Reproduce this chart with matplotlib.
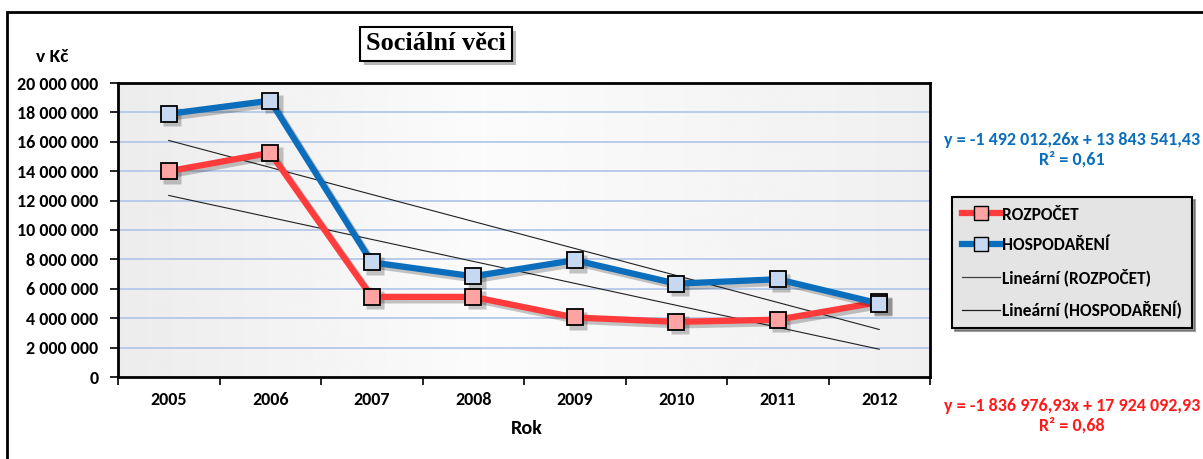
import numpy as np
from matplotlib import pyplot as plt
from matplotlib import font_manager
from matplotlib.lines import Line2D
from matplotlib.patches import Rectangle
from matplotlib.transforms import ScaledTranslation
import matplotlib.patheffects as pe

years = ['2005', '2006', '2007', '2008', '2009', '2010', '2011', '2012']
rozpocet = [14.0e6, 15.25e6, 5.45e6, 5.45e6, 4.05e6, 3.75e6, 3.9e6, 5.1e6]
hospodareni = [17.9e6, 18.8e6, 7.8e6, 6.85e6, 7.95e6, 6.35e6, 6.65e6, 5.0e6]
y_ticks = [0, 2e6, 4e6, 6e6, 8e6, 10e6, 12e6, 14e6, 16e6, 18e6, 20e6]

eq_rozpocet = 'y = -1 492 012,26x + 13 843 541,43\nR² = 0,61'
eq_hospodareni = 'y = -1 836 976,93x + 17 924 092,93\nR² = 0,68'

installed = {f.name for f in font_manager.fontManager.ttflist}
sans = 'Liberation Sans'
for cand in ['Carlito', 'Liberation Sans Narrow', 'Roboto Condensed', 'Open Sans Condensed']:
    if cand in installed:
        sans = cand
        break
plt.rcParams['font.family'] = [sans, 'DejaVu Sans']
plt.rcParams['font.weight'] = 'bold'
fs = 11.5 if sans == 'Liberation Sans' else 13

W, H = 1203, 459
fig = plt.figure(figsize=(W / 100, H / 100), dpi=100)

# outer chart border (clipped at right and bottom like the source)
fig.patches.append(Rectangle((7 / W, -0.05), 1.1, 1 - 12 / H + 0.05, transform=fig.transFigure,
                             fill=False, ec='black', lw=2, zorder=0))

left, right, top, bottom = 118 / W, 930 / W, 1 - 83 / H, 1 - 377 / H
pos = [left, bottom, right - left, top - bottom]

# gradient background of plot area
bg = fig.add_axes(pos, zorder=0)
grad = np.interp(np.linspace(0, 1, 300), [0, 0.45, 1], [0.925, 0.985, 0.94])
bg.imshow(np.tile(grad, (2, 1)), cmap='gray', vmin=0, vmax=1, aspect='auto',
          extent=[0, 1, 0, 1])
bg.axis('off')

ax = fig.add_axes(pos, zorder=1)
ax.patch.set_alpha(0)
x = np.arange(len(years))

for yv in y_ticks[1:]:
    ax.axhline(yv, color='#b4c8e8', lw=1.3, zorder=1)

# trend lines
for series in (rozpocet, hospodareni):
    k, q = np.polyfit(x, series, 1)
    ax.plot(x, k * x + q, color='#202020', lw=0.8, zorder=2)

# series with a soft drop shadow
shift = ax.transData + ScaledTranslation(2.5 / 72, -2.5 / 72, fig.dpi_scale_trans)
for i, (series, lc, mc) in enumerate([(rozpocet, '#ff3b3b', '#ffa3a3'),
                                      (hospodareni, '#0a6ebd', '#c6d9f1')]):
    ax.plot(x, series, color='black', alpha=0.22, lw=4.5, marker='s', ms=12.5,
            mfc='black', mec='none', transform=shift, zorder=3 + 2 * i)
    ax.plot(x, series, color=lc, lw=4.5, marker='s', ms=12, mfc=mc,
            mec='black', mew=1.3, zorder=4 + 2 * i)

ax.set_xlim(-0.5, len(years) - 0.5)
ax.set_ylim(0, 20e6)
ax.set_yticks(y_ticks)
ax.set_yticklabels([f'{int(v):,}'.replace(',', ' ') for v in y_ticks], fontsize=fs, fontweight='bold')
ax.set_xticks(np.arange(len(years) + 1) - 0.5)
ax.set_xticklabels([])
ax.set_xticks(x, minor=True)
ax.set_xticklabels(years, minor=True, fontsize=fs, fontweight='bold')
ax.tick_params(axis='x', which='major', direction='out', length=6, width=1.2)
ax.tick_params(axis='x', which='minor', length=0, pad=11)
ax.tick_params(axis='y', direction='out', length=6, width=1.2, pad=8)
for s in ax.spines.values():
    s.set_linewidth(2)

fig.text(52 / W, 1 - 57 / H, 'v Kč', ha='center', va='center', fontsize=fs + 1, fontweight='bold')
fig.text(527 / W, 1 - 428 / H, 'Rok', ha='center', va='center', fontsize=fs + 1.5, fontweight='bold')

t = fig.text(436 / W, 1 - 44 / H, 'Sociální věci', ha='center', va='center', fontsize=19,
             fontweight='bold', family=['Liberation Serif', 'DejaVu Serif'],
             bbox=dict(boxstyle='square,pad=0.22', fc='white', ec='black', lw=1.5))
t.get_bbox_patch().set_path_effects([pe.SimplePatchShadow(offset=(3, -3), alpha=0.4), pe.Normal()])

fig.text(1072 / W, 1 - 150 / H, eq_rozpocet, ha='center', va='center', fontsize=fs,
         fontweight='bold', color='#0a6ebd', linespacing=1.25)
fig.text(1072 / W, 1 - 416 / H, eq_hospodareni, ha='center', va='center', fontsize=fs,
         fontweight='bold', color='#ff1a1a', linespacing=1.25)

handles = [
    Line2D([], [], color='#ff3b3b', lw=4.5, marker='s', ms=10, mfc='#ffa3a3', mec='black', mew=1),
    Line2D([], [], color='#0a6ebd', lw=4.5, marker='s', ms=10, mfc='#c6d9f1', mec='black', mew=1),
    Line2D([], [], color='#404040', lw=0.9),
    Line2D([], [], color='#202020', lw=0.9),
]
labels = ['ROZPOČET', 'HOSPODAŘENÍ', 'Lineární (ROZPOČET)', 'Lineární (HOSPODAŘENÍ)']
leg = fig.legend(handles, labels, loc='upper left', bbox_to_anchor=(952 / W, 1 - 197 / H),
                 fontsize=fs - 0.5, frameon=True, fancybox=False, shadow=True, handlelength=2.2,
                 handletextpad=0.15, labelspacing=0.85, borderpad=0.55, borderaxespad=0)
leg.get_frame().set_facecolor('#e4e4e4')
leg.get_frame().set_edgecolor('black')
leg.get_frame().set_linewidth(1.5)
leg.get_frame().set_alpha(1)
for txt in leg.get_texts():
    txt.set_fontweight('bold')

fig.savefig('out.png', dpi=100, facecolor='white')
